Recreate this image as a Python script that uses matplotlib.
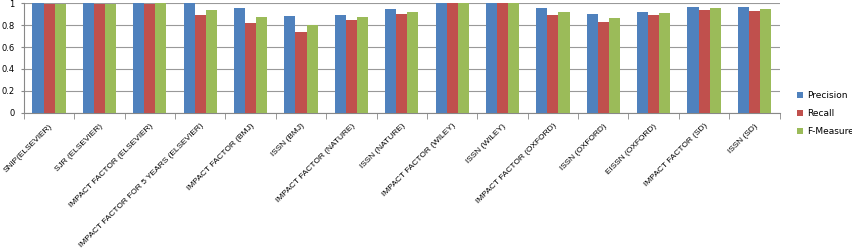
import matplotlib
matplotlib.use("Agg")
import matplotlib.pyplot as plt
import numpy as np

categories = ["SNIP(ELSEVIER)", "SJR (ELSEVIER)", "IMPACT FACTOR (ELSEVIER)",
              "IMPACT FACTOR FOR 5 YEARS (ELSEVIER)", "IMPACT FACTOR (BMJ)", "ISSN (BMJ)",
              "IMPACT FACTOR (NATURE)", "ISSN (NATURE)", "IMPACT FACTOR (WILEY)", "ISSN (WILEY)",
              "IMPACT FACTOR (OXFORD)", "ISSN (OXFORD)", "EISSN (OXFORD)",
              "IMPACT FACTOR (SD)", "ISSN (SD)"]
precision = [1.0, 1.0, 1.0, 1.0, 0.954, 0.887, 0.893, 0.945, 1.0, 1.0, 0.957, 0.902, 0.923, 0.969, 0.963]
recall    = [0.99, 0.99, 0.99, 0.893, 0.823, 0.741, 0.847, 0.902, 1.0, 1.0, 0.89, 0.832, 0.893, 0.939, 0.93]
fmeasure  = [0.99, 0.99, 1.0, 0.939, 0.878, 0.80, 0.872, 0.923, 1.0, 1.0, 0.923, 0.863, 0.908, 0.954, 0.945]
series_names = ["Precision", "Recall", "F-Measure"]
yticks = [0, 0.2, 0.4, 0.6, 0.8, 1]
ytick_labels = ["0", "0.2", "0.4", "0.6", "0.8", "1"]

colors = ["#4F81BD", "#C0504D", "#9BBB59"]

fig = plt.figure(figsize=(8.53, 2.48), dpi=100)
ax = fig.add_axes([0.028, 0.5456, 0.886, 0.4411])

x = np.arange(len(categories))
w = 0.22
for i, (vals, name) in enumerate(zip([precision, recall, fmeasure], series_names)):
    ax.bar(x + (i - 1) * w, vals, width=w, color=colors[i], label=name, zorder=3)

ax.set_xlim(-0.5, len(categories) - 0.5)
ax.set_ylim(0, 1)
ax.set_yticks(yticks)
ax.set_yticklabels(ytick_labels, fontsize=6)
ax.yaxis.grid(True, color="#999999", linewidth=0.8, zorder=0)
ax.tick_params(axis="y", length=2.2, pad=4.5, color="#888888")

ax.set_xticks(x)
ax.set_xticklabels(categories, rotation=45, ha="right", rotation_mode="anchor",
                   fontsize=6, family="Liberation Sans")
ax.tick_params(axis="x", which="major", length=0, pad=7)
ax.set_xticks(np.arange(-0.5, len(categories), 1.0), minor=True)
ax.tick_params(axis="x", which="minor", length=4, color="#888888", direction="out")

for s in ["top", "right"]:
    ax.spines[s].set_visible(False)
ax.spines["left"].set_color("#888888")
ax.spines["bottom"].set_color("#888888")

leg = fig.legend(loc="upper left", bbox_to_anchor=(0.925, 0.665), frameon=False,
                 fontsize=6.5, handlelength=0.7, handleheight=0.7, handletextpad=0.4,
                 labelspacing=1.0)

fig.savefig("out.png", dpi=100)
